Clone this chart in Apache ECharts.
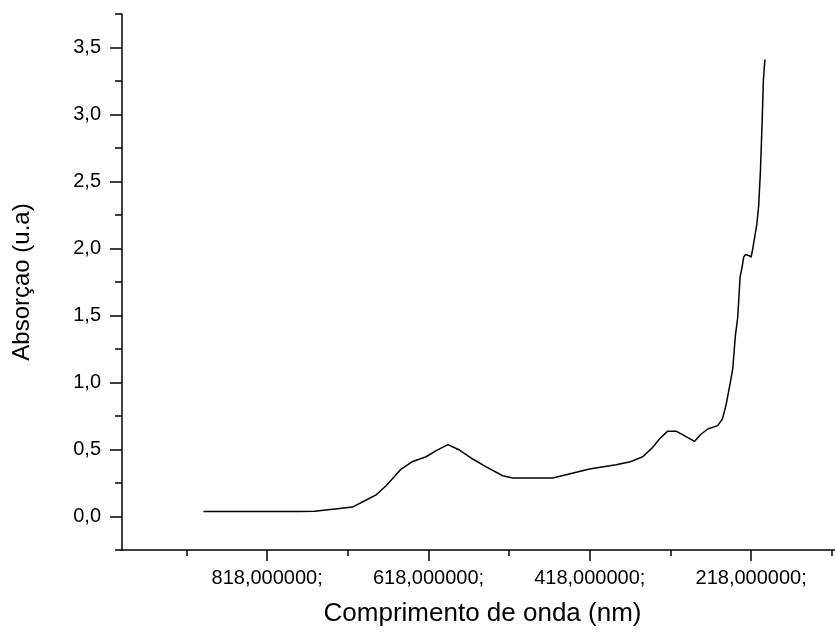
<!DOCTYPE html>
<html>
<head>
<meta charset="utf-8">
<script src="https://cdn.jsdelivr.net/npm/echarts@6/dist/echarts.min.js"></script>
<style>html,body{margin:0;padding:0;background:#fff}#c{width:835px;height:635px}</style>
</head>
<body>
<div id="c"></div>
<script>
var wavelength = [897, 778, 759.4, 757, 728.4, 712.3, 695.3, 682.9, 670.5, 651.9, 637.5, 620.9, 608.5, 593.9, 579.6, 563.1, 546.5, 525.9, 513.5, 464, 447.4, 418.5, 385.4, 368.9, 352.4, 340, 331.7, 321.4, 311, 298.6, 288.3, 280.9, 271.8, 259.4, 253.6, 249, 244.1, 240.8, 237.5, 234.6, 231.7, 229.2, 227.2, 225.1, 221.0, 218.0, 216.0, 213.9, 211.1, 208.6, 206.5, 204.4, 202.8, 200.9];
var absorbance = [0.037, 0.038, 0.039, 0.05, 0.06, 0.07, 0.123, 0.162, 0.229, 0.354, 0.411, 0.446, 0.491, 0.536, 0.496, 0.429, 0.371, 0.304, 0.287, 0.287, 0.312, 0.354, 0.386, 0.406, 0.446, 0.516, 0.578, 0.637, 0.637, 0.596, 0.560, 0.610, 0.653, 0.678, 0.728, 0.835, 0.989, 1.101, 1.350, 1.487, 1.786, 1.861, 1.935, 1.955, 1.948, 1.935, 1.998, 2.073, 2.172, 2.322, 2.570, 2.932, 3.256, 3.410];
var xMajorTicks = [818, 618, 418, 218];
var xMinorTicks = [918, 718, 518, 318, 118];
var yMajorTicks = [0, 0.5, 1, 1.5, 2, 2.5, 3, 3.5];
var yMinorTicks = [-0.25, 0.25, 0.75, 1.25, 1.75, 2.25, 2.75, 3.25, 3.75];

var pts = wavelength.map(function (w, i) { return [w, absorbance[i]]; });
var font = '"Liberation Sans", Arial, sans-serif';
var xBase = { type: 'value', min: 114, max: 998, inverse: true, position: 'bottom', splitLine: { show: false } };
var yBase = { type: 'value', min: -0.25, max: 3.75, position: 'left', splitLine: { show: false } };

var chart = echarts.init(document.getElementById('c'), null, { renderer: 'canvas' });
chart.setOption({
  animation: false,
  backgroundColor: '#fff',
  grid: { left: 122, right: 0, top: 14, bottom: 85, containLabel: false },
  xAxis: [
    Object.assign({}, xBase, {
      name: 'Comprimento de onda (nm)', nameLocation: 'middle', nameGap: 51,
      nameTextStyle: { fontFamily: font, fontSize: 26, color: '#000', padding: [0, 0, 0, 8] },
      axisLine: { show: true, onZero: false, lineStyle: { color: '#000', width: 1.5 } },
      axisTick: { show: true, length: 11, customValues: xMajorTicks, lineStyle: { color: '#000', width: 1.5 } },
      axisLabel: { show: true, customValues: xMajorTicks, margin: 18, fontFamily: font, fontSize: 20, color: '#000',
        formatter: function (v) { return v + ',000000;'; } }
    }),
    Object.assign({}, xBase, {
      axisLine: { show: false, onZero: false },
      axisTick: { show: true, length: 6, customValues: xMinorTicks, lineStyle: { color: '#000', width: 1.5 } },
      axisLabel: { show: false }
    })
  ],
  yAxis: [
    Object.assign({}, yBase, {
      name: 'Absorçao (u.a)', nameLocation: 'middle', nameGap: 88,
      nameTextStyle: { fontFamily: font, fontSize: 24, color: '#000' },
      axisLine: { show: true, onZero: false, lineStyle: { color: '#000', width: 1.5 } },
      axisTick: { show: true, length: 12, customValues: yMajorTicks, lineStyle: { color: '#000', width: 1.5 } },
      axisLabel: { show: true, customValues: yMajorTicks, margin: 21, fontFamily: font, fontSize: 20, color: '#000',
        formatter: function (v) { return v.toFixed(1).replace('.', ','); } }
    }),
    Object.assign({}, yBase, {
      axisLine: { show: false, onZero: false },
      axisTick: { show: true, length: 7, customValues: yMinorTicks, lineStyle: { color: '#000', width: 1.5 } },
      axisLabel: { show: false }
    })
  ],
  series: [{
    type: 'line', xAxisIndex: 0, yAxisIndex: 0, data: pts, showSymbol: false, smooth: false,
    lineStyle: { color: '#000', width: 1.5 }
  }]
});
</script>
</body>
</html>
